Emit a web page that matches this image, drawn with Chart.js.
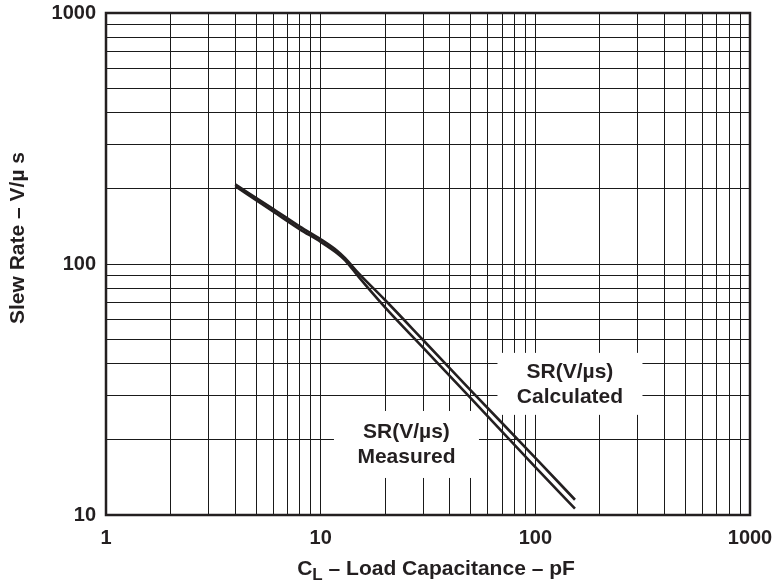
<!DOCTYPE html>
<html>
<head>
<meta charset="utf-8">
<script src="https://cdn.jsdelivr.net/npm/chart.js@4"></script>
<style>
  body { margin: 0; background: #fff; }
  #wrap { width: 776px; height: 584px; }
</style>
</head>
<body>
<div id="wrap"><canvas id="chart" width="776" height="584"></canvas></div>
<script>
// load capacitance (pF) and slew rate (V/us)
const capMeasured = [4, 6, 8, 10, 12, 13, 15, 20, 30, 50, 100, 153];
const srMeasured = [204, 162, 137.5, 122.5, 110, 103.5, 89, 67, 46.4, 29.2, 15.5, 10.6];
const capCalculated = [4, 6, 8, 10, 12, 13, 15, 20, 30, 50, 100, 153];
const srCalculated = [207.5, 166, 141, 125.5, 112.5, 105.5, 92, 71.7, 49.8, 31.4, 16.9, 11.5];

// axis ticks
const xDecades = [1, 10, 100];
const yDecades = [10, 100];
const gridSteps = [1, 2, 3, 4, 5, 6, 7, 8, 9];
const xTickLabels = [1, 10, 100, 1000];
const yTickLabels = [10, 100, 1000];

const FONT = '"Liberation Sans", Arial, sans-serif';
const INK = '#231f20';

function gridValues(decades, top) {
  const vals = [];
  decades.forEach(d => gridSteps.forEach(m => vals.push(d * m)));
  vals.push(top);
  return vals;
}

// white boxes with the curve labels, placed in data coordinates
const notes = [
  { x: 145, y: 33.3, w: 145, h: 62, lines: ['SR(V/\u00b5s)', 'Calculated'] },
  { x: 25.1, y: 19.1, w: 145, h: 67, lines: ['SR(V/\u00b5s)', 'Measured'] }
];

const notesPlugin = {
  id: 'notes',
  beforeDatasetsDraw(chart) {
    const { ctx, scales } = chart;
    ctx.save();
    notes.forEach(n => {
      const cx = scales.x.getPixelForValue(n.x);
      const cy = scales.y.getPixelForValue(n.y);
      ctx.fillStyle = '#fff';
      ctx.fillRect(cx - n.w / 2, cy - n.h / 2, n.w, n.h);
      ctx.fillStyle = INK;
      ctx.font = 'bold 21px ' + FONT;
      ctx.textAlign = 'center';
      ctx.textBaseline = 'middle';
      ctx.fillText(n.lines[0], cx, cy - 12);
      ctx.fillText(n.lines[1], cx, cy + 13);
    });
    ctx.restore();
  },
  afterDraw(chart) {
    const { ctx, chartArea: a } = chart;
    ctx.save();
    // frame
    ctx.strokeStyle = INK;
    ctx.lineWidth = 2.5;
    ctx.strokeRect(a.left, a.top, a.right - a.left, a.bottom - a.top);

    ctx.fillStyle = INK;
    ctx.textBaseline = 'middle';

    // y title
    ctx.save();
    ctx.translate(18, 238);
    ctx.rotate(-Math.PI / 2);
    ctx.font = 'bold 21px ' + FONT;
    ctx.textAlign = 'center';
    ctx.fillText('Slew Rate \u2013 V/\u00b5 s', 0, 0);
    ctx.restore();

    // x title with subscript
    const big = 'bold 21px ' + FONT;
    const small = 'bold 17px ' + FONT;
    const rest = ' \u2013 Load Capacitance \u2013 pF';
    ctx.font = big;
    const wC = ctx.measureText('C').width;
    const wRest = ctx.measureText(rest).width;
    ctx.font = small;
    const wL = ctx.measureText('L').width;
    let x = 436 - (wC + wL + wRest) / 2;
    const y = 569;
    ctx.textAlign = 'left';
    ctx.font = big;
    ctx.fillText('C', x, y);
    x += wC;
    ctx.font = small;
    ctx.fillText('L', x, y + 6);
    x += wL;
    ctx.font = big;
    ctx.fillText(rest, x, y);
    ctx.restore();
  }
};

new Chart(document.getElementById('chart'), {
  type: 'line',
  data: {
    datasets: [
      {
        label: 'SR(V/\u00b5s) Calculated',
        data: capCalculated.map((c, i) => ({ x: c, y: srCalculated[i] })),
        borderColor: INK,
        borderWidth: 2.6,
        pointRadius: 0,
        cubicInterpolationMode: 'monotone'
      },
      {
        label: 'SR(V/\u00b5s) Measured',
        data: capMeasured.map((c, i) => ({ x: c, y: srMeasured[i] })),
        borderColor: INK,
        borderWidth: 2.6,
        pointRadius: 0,
        cubicInterpolationMode: 'monotone'
      }
    ]
  },
  options: {
    responsive: false,
    animation: false,
    devicePixelRatio: 1,
    layout: { padding: { top: 13, right: 26, left: 0, bottom: 0 } },
    plugins: { legend: { display: false }, tooltip: { enabled: false } },
    scales: {
      x: {
        type: 'logarithmic',
        min: 1,
        max: 1000,
        afterBuildTicks: s => { s.ticks = gridValues(xDecades, 1000).map(v => ({ value: v })); },
        afterFit: s => { s.height = 69; s.paddingLeft = 0; s.paddingRight = 0; },
        grid: { color: '#1a1a1a', lineWidth: 1, drawTicks: false },
        border: { display: false },
        ticks: {
          autoSkip: false,
          maxRotation: 0,
          padding: 11,
          color: INK,
          font: { family: FONT, size: 20, weight: 'bold' },
          callback: v => (xTickLabels.includes(v) ? String(v) : '')
        }
      },
      y: {
        type: 'logarithmic',
        min: 10,
        max: 1000,
        afterBuildTicks: s => { s.ticks = gridValues(yDecades, 1000).map(v => ({ value: v })); },
        afterFit: s => { s.width = 106; s.paddingTop = 0; s.paddingBottom = 0; },
        grid: { color: '#1a1a1a', lineWidth: 1, drawTicks: false },
        border: { display: false },
        ticks: {
          autoSkip: false,
          padding: 10,
          color: INK,
          font: { family: FONT, size: 20, weight: 'bold' },
          callback: v => (yTickLabels.includes(v) ? String(v) : '')
        }
      }
    }
  },
  plugins: [notesPlugin]
});
</script>
</body>
</html>
